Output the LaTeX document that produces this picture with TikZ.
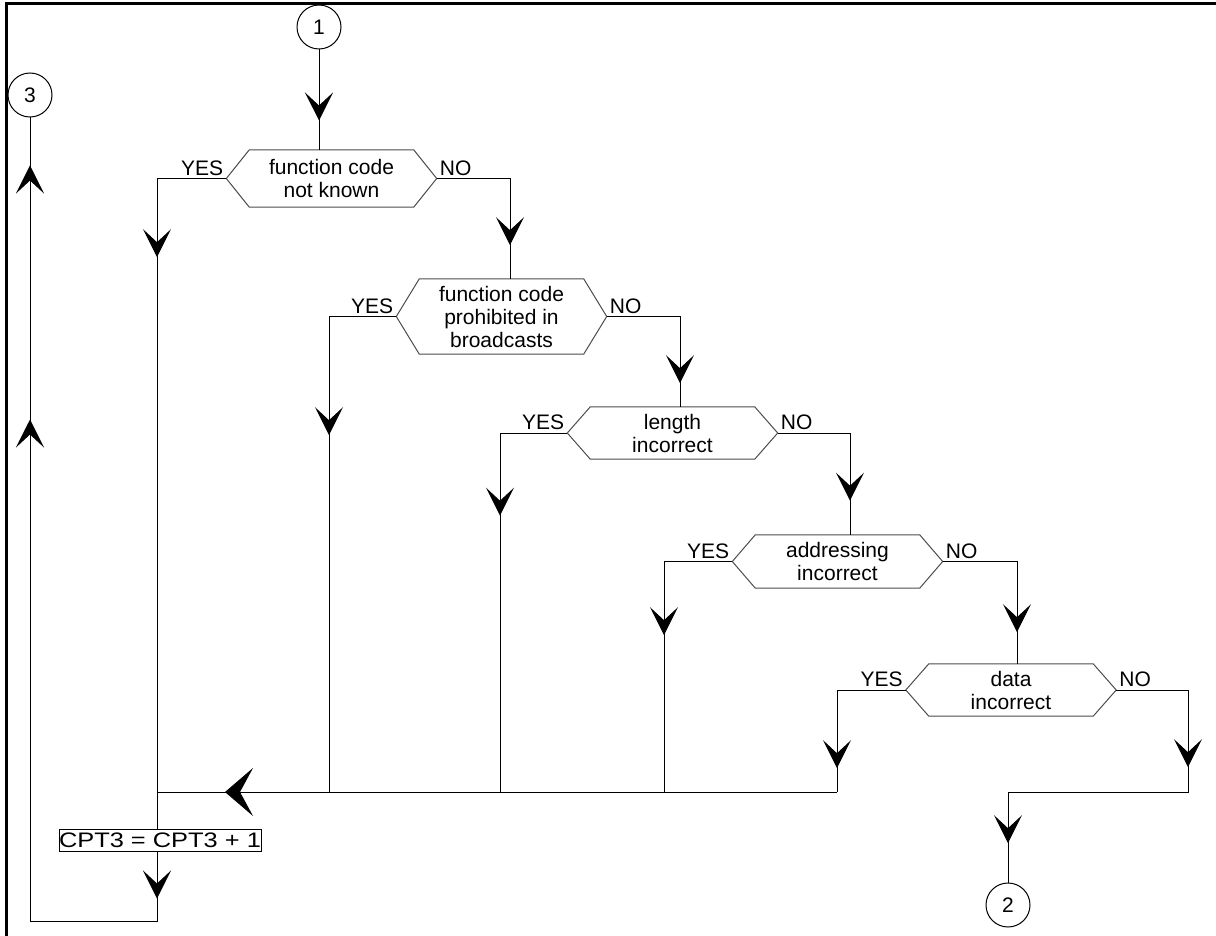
\documentclass[tikz,border=0pt]{standalone}
\usepackage{fontspec}
\usepackage{graphicx}
\setmainfont{Liberation Sans}
\usetikzlibrary{arrows.meta,decorations.markings}

\tikzset{
  vtip/.tip={Stealth[length=28pt,width=28pt,inset=13pt]},
  htip/.tip={Stealth[length=28pt,width=48pt,inset=13pt]},
  line/.style={draw, line width=1pt},
  arrowat/.style={postaction={decorate,decoration={markings,mark=at position #1 with {\arrow{vtip}}}}},
  harrowat/.style={postaction={decorate,decoration={markings,mark=at position #1 with {\arrow{htip}}}}},
  decision/.style={minimum width=210pt, inner sep=0pt, align=center},
  connector/.style={circle, draw, line width=1pt, minimum size=44pt, inner sep=0pt},
  yeslabel/.style={anchor=south east, inner sep=3pt},
  nolabel/.style={anchor=south west, inner sep=3pt},
  counter/.style={draw, fill=white, line width=1pt, minimum width=202pt, minimum height=22pt, inner sep=0pt}
}

\begin{document}
\begin{tikzpicture}[x=1pt, y=-1pt, font=\fontsize{21}{23}\selectfont]
        \useasboundingbox (0,0) rectangle (1216,936);
        % frame
        \draw[line width=3pt] (6,936) -- (6,4) -- (1216,4);

        % connectors
        \node[connector] (c1) at (319,27) {1};
        \node[connector] (c3) at (30,95) {3};
        \node[connector] (c2) at (1008,905) {2};

        % decisions
        \node[decision, minimum height=57pt] (d1) at (331.5,178.5) {function code\\not known};
        \node[decision, minimum height=75pt] (d2) at (501.5,316.5) {function code\\prohibited in\\broadcasts};
        \node[decision, minimum height=52pt] (d3) at (672.5,433) {length\\incorrect};
        \node[decision, minimum height=53pt] (d4) at (837.5,561.5) {addressing\\incorrect};
        \node[decision, minimum height=52pt] (d5) at (1011,690) {data\\incorrect};
        \foreach \d in {d1,d2,d3,d4,d5}
        {
          \draw[line width=1pt, black!70] ([xshift=23pt]\d.north west) -- (\d.west) -- ([xshift=23pt]\d.south west)
            -- ([xshift=-23pt]\d.south east) -- (\d.east) -- ([xshift=-23pt]\d.north east) -- cycle;
          \node[yeslabel] (y\d) at (\d.west) {YES};
          \node[nolabel] (n\d) at (\d.east) {NO};
        }

        \node[counter] (cnt) at (160,840) {\makebox[202pt][l]{\scalebox{1.21}[1]{CPT3 = CPT3 + 1}}};

        % junctions on the return line
        \coordinate (m) at (157,792);
        \coordinate (j2) at (329,792);
        \coordinate (j3) at (500,792);
        \coordinate (j4) at (664,792);
        \coordinate (j5) at (837,792);
        \coordinate (r5) at (1188,792);
        \coordinate (b) at (157,921);

        % flow
        \draw[line, arrowat=71pt] (c1) -- (c1 |- d1.north);
        \draw[line, arrowat=148pt] (d1.west) -| (cnt.north -| m);
        \draw[line, arrowat=140pt] (d1.east) -| ([xshift=8.5pt]d2.north);
        \draw[line, arrowat=186pt] (d2.west) -| (j2);
        \draw[line, arrowat=140pt] (d2.east) -| ([xshift=7.5pt]d3.north);
        \draw[line, arrowat=150pt] (d3.west) -| (j3);
        \draw[line, arrowat=140pt] (d3.east) -| ([xshift=12.5pt]d4.north);
        \draw[line, arrowat=142pt] (d4.west) -| (j4);
        \draw[line, arrowat=145pt] (d4.east) -| ([xshift=6pt]d5.north);
        \draw[line, arrowat=147pt] (d5.west) -| (j5);
        \draw[line, harrowat=612pt] (j5) -- (m);
        \draw[line, arrowat=149pt, arrowat=405pt] (d5.east) -| (r5) -| (c2);
        \draw[line, arrowat=47pt, arrowat=698pt, arrowat=952pt] (cnt.south -| m) -- (b) -| (c3);
\end{tikzpicture}
\end{document}
